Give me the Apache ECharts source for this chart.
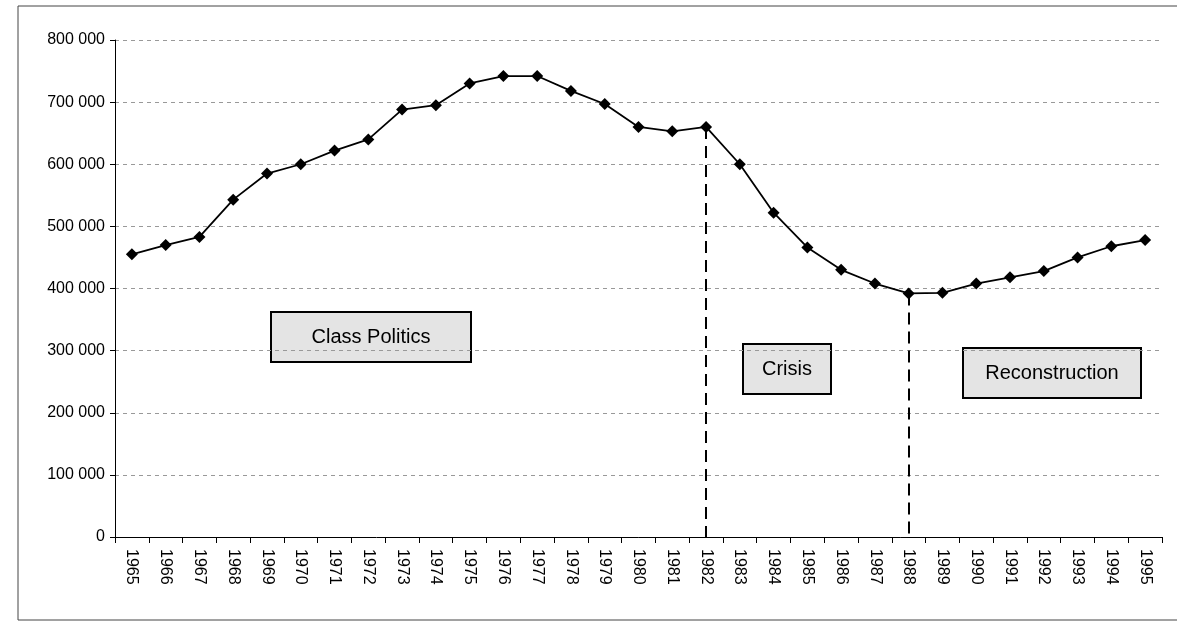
<!DOCTYPE html>
<html>
<head>
<meta charset="utf-8">
<script src="https://cdn.jsdelivr.net/npm/echarts@6/dist/echarts.min.js"></script>
<style>
  * { margin: 0; padding: 0; }
  html, body { background: #fff; }
</style>
</head>
<body>
<!-- chart container -->
<div id="main" style="width:1177px;height:633px;"></div>
<script>
  // years on the x axis
  var years = ['1965','1966','1967','1968','1969','1970','1971','1972','1973','1974','1975',
    '1976','1977','1978','1979','1980','1981','1982','1983','1984','1985','1986','1987',
    '1988','1989','1990','1991','1992','1993','1994','1995'];
  // values
  var values = [455000, 470000, 483000, 543000, 585000, 600000, 622000, 640000, 688000, 695000, 730000,
    742000, 742000, 718000, 697000, 660000, 653000, 660000, 600000, 522000, 466000, 430000, 408000,
    392000, 393000, 408000, 418000, 428000, 450000, 468000, 478000];
  // period boundaries (dashed lines)
  var breakYears = ['1982', '1988'];
  var breakValues = [660000, 392000];
  // period labels
  var periods = ['Class Politics', 'Crisis', 'Reconstruction'];

  var mycharts = echarts.init(document.getElementById('main'));

  var fnt = '"Liberation Sans", Arial, sans-serif';

  var option = {
    animation: false,
    backgroundColor: '#fff',
    grid: { left: 115, right: 15, top: 40, bottom: 96 },
    xAxis: {
      type: 'category',
      data: years,
      boundaryGap: true,
      axisLine: { lineStyle: { color: '#000', width: 1 } },
      axisTick: { show: true, alignWithLabel: false, length: 6, lineStyle: { color: '#000' } },
      axisLabel: { rotate: -90, color: '#000', fontSize: 16, fontFamily: fnt, margin: 12, interval: 0 }
    },
    yAxis: {
      type: 'value',
      min: 0,
      max: 800000,
      interval: 100000,
      axisLine: { show: true, lineStyle: { color: '#000', width: 1 } },
      axisTick: { show: true, length: 5, lineStyle: { color: '#000' } },
      axisLabel: {
        color: '#000', fontSize: 16, fontFamily: fnt, margin: 10,
        formatter: function (v) {
          return String(v).replace(/\B(?=(\d{3})+(?!\d))/g, ' ');
        }
      },
      splitLine: { lineStyle: { color: '#999', type: [4, 4], width: 1 } }
    },
    series: [{
      type: 'line',
      data: values,
      symbol: 'diamond',
      symbolSize: 12,
      itemStyle: { color: '#000' },
      lineStyle: { color: '#000', width: 1.8 },
      markLine: {
        symbol: 'none',
        silent: true,
        label: { show: false },
        lineStyle: { color: '#000', type: [12, 7], width: 2 },
        data: breakYears.map(function (y, i) {
          return [{ coord: [y, breakValues[i]] }, { coord: [y, 0] }];
        })
      }
    }],
    graphic: [
      { type: 'rect', shape: { x: 18, y: 6, width: 1170, height: 614 }, style: { fill: 'none', stroke: '#444', lineWidth: 1 }, z: -1 },
      { type: 'group', left: 270, top: 311, children: [
        { type: 'rect', shape: { width: 200, height: 50 }, style: { fill: '#e4e4e4', stroke: '#000', lineWidth: 2 } },
        { type: 'text', style: { x: 100, y: 25, text: periods[0], align: 'center', verticalAlign: 'middle', font: '20px ' + fnt, fill: '#000' } }
      ]},
      { type: 'group', left: 742, top: 343, children: [
        { type: 'rect', shape: { width: 88, height: 50 }, style: { fill: '#e4e4e4', stroke: '#000', lineWidth: 2 } },
        { type: 'text', style: { x: 44, y: 25, text: periods[1], align: 'center', verticalAlign: 'middle', font: '20px ' + fnt, fill: '#000' } }
      ]},
      { type: 'group', left: 962, top: 347, children: [
        { type: 'rect', shape: { width: 178, height: 50 }, style: { fill: '#e4e4e4', stroke: '#000', lineWidth: 2 } },
        { type: 'text', style: { x: 89, y: 25, text: periods[2], align: 'center', verticalAlign: 'middle', font: '20px ' + fnt, fill: '#000' } }
      ]}
    ]
  };
  mycharts.setOption(option);
</script>
</body>
</html>
